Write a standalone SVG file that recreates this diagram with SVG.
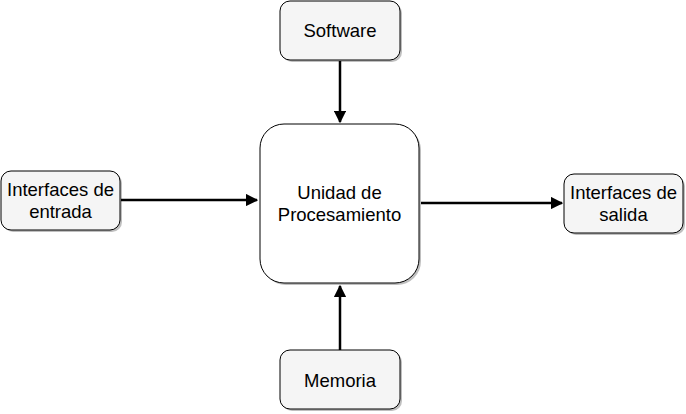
<svg xmlns="http://www.w3.org/2000/svg" width="686" height="414" viewBox="0 0 686 414">
<style>
.box{fill:#f5f5f5;stroke:#000;stroke-width:1}
.main{fill:#fff;stroke:#000;stroke-width:1}
.sh{fill:#000;opacity:0.25}
.t{font-family:"Liberation Sans",Arial,sans-serif;font-size:18.5px;fill:#000;text-anchor:middle}
.c{stroke:#000;stroke-width:2.5;fill:none}
</style>
<defs>
<marker id="ah" viewBox="0 0 10 10" refX="9" refY="5" markerWidth="5" markerHeight="5" orient="auto" markerUnits="strokeWidth">
<path d="M0,0 L10,5 L0,10 Z" fill="#000"/>
</marker>
</defs>
<g id="connectors">
<line class="c" x1="340" y1="61" x2="340" y2="122" marker-end="url(#ah)"/>
<line class="c" x1="121" y1="200" x2="257" y2="200" marker-end="url(#ah)"/>
<line class="c" x1="421" y1="203" x2="562" y2="203" marker-end="url(#ah)"/>
<line class="c" x1="340" y1="350" x2="340" y2="286" marker-end="url(#ah)"/>
</g>
<g id="software">
<rect class="sh" x="282" y="3" width="120" height="59" rx="10"/>
<rect class="box" x="280" y="1" width="120" height="59" rx="10"/>
<text class="t" x="340" y="37">Software</text>
</g>
<g id="entrada">
<rect class="sh" x="3" y="173" width="119" height="59" rx="10"/>
<rect class="box" x="1" y="171" width="119" height="59" rx="10"/>
<text class="t" x="60.5" y="196">Interfaces de</text>
<text class="t" x="60.5" y="218">entrada</text>
</g>
<g id="unidad">
<rect class="sh" x="262" y="126" width="159" height="159" rx="24"/>
<rect class="main" x="260" y="124" width="159" height="159" rx="24"/>
<text class="t" x="339.5" y="199">Unidad de</text>
<text class="t" x="339.5" y="221">Procesamiento</text>
</g>
<g id="salida">
<rect class="sh" x="566" y="176" width="119" height="59" rx="10"/>
<rect class="box" x="564" y="174" width="119" height="59" rx="10"/>
<text class="t" x="623.5" y="199">Interfaces de</text>
<text class="t" x="623.5" y="221">salida</text>
</g>
<g id="memoria">
<rect class="sh" x="282" y="352" width="120" height="59" rx="10"/>
<rect class="box" x="280" y="350" width="120" height="59" rx="10"/>
<text class="t" x="340" y="387">Memoria</text>
</g>
</svg>
